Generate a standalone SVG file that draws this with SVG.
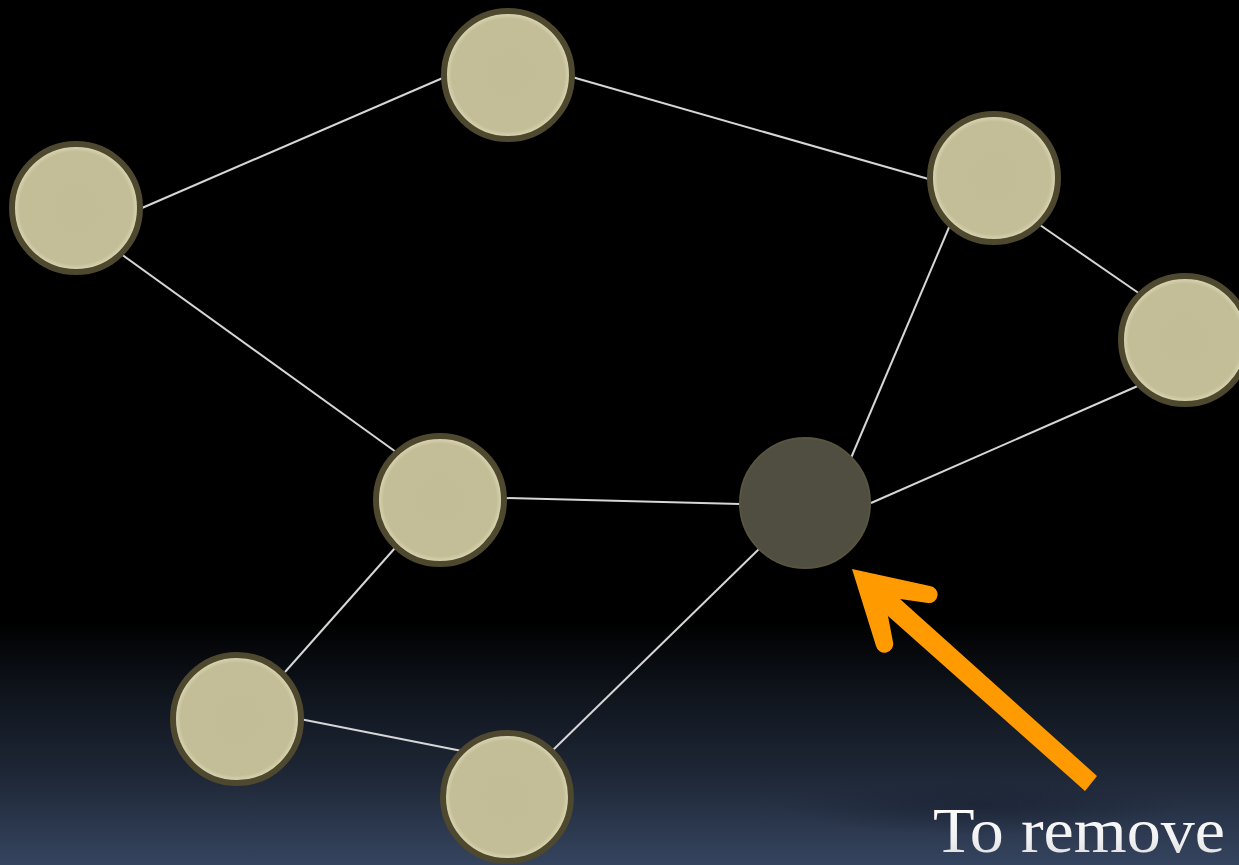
<svg xmlns="http://www.w3.org/2000/svg" width="1239" height="865" viewBox="0 0 1239 865">
<defs>
<linearGradient id="bg" x1="0" y1="0" x2="0" y2="865" gradientUnits="userSpaceOnUse">
<stop offset="0" stop-color="#000000"/>
<stop offset="0.72" stop-color="#000000"/>
<stop offset="0.8" stop-color="#0f141c"/>
<stop offset="0.9" stop-color="#1f2838"/>
<stop offset="1" stop-color="#35445f"/>
</linearGradient>
<radialGradient id="nodeFill" cx="0.5" cy="0.5" r="0.5">
<stop offset="0" stop-color="#c2bd96"/>
<stop offset="0.88" stop-color="#c3be97"/>
<stop offset="0.95" stop-color="#d6d2ae"/>
<stop offset="1" stop-color="#bdb78f"/>
</radialGradient>
<radialGradient id="smudge" cx="0.5" cy="0.5" r="0.5">
<stop offset="0" stop-color="#1a2233" stop-opacity="0.7"/>
<stop offset="1" stop-color="#1a2233" stop-opacity="0"/>
</radialGradient>
<linearGradient id="txt" x1="0" y1="0" x2="0" y2="1">
<stop offset="0" stop-color="#ffffff"/>
<stop offset="0.6" stop-color="#f2f2f2"/>
<stop offset="1" stop-color="#d6d6d6"/>
</linearGradient>
<style>
.node{fill:url(#nodeFill);stroke:#4e482f;stroke-width:6}
.gone{fill:#504e41;stroke:#57543f;stroke-width:2}
.edge{stroke:#d6d6d6;stroke-width:2;fill:none}
.arrow{fill:#ff9a00;stroke:none}
.label{font-family:"Liberation Serif","Times New Roman",serif;font-size:63px;fill:url(#txt)}
</style>
</defs>
<rect x="0" y="0" width="1239" height="865" fill="url(#bg)"/>
<ellipse cx="980" cy="805" rx="200" ry="30" fill="url(#smudge)"/>
<g id="connectors">
<line class="edge" x1="142" y1="208" x2="445" y2="77"/>
<line class="edge" x1="572" y1="77" x2="932" y2="180"/>
<line class="edge" x1="121" y1="254" x2="396" y2="452"/>
<line class="edge" x1="950" y1="225" x2="851" y2="458"/>
<line class="edge" x1="1040" y1="225" x2="1140" y2="294"/>
<line class="edge" x1="1140" y1="385" x2="871" y2="503"/>
<line class="edge" x1="504" y1="498" x2="740" y2="504"/>
<line class="edge" x1="395" y1="548" x2="285" y2="672"/>
<line class="edge" x1="300" y1="719" x2="462" y2="751"/>
<line class="edge" x1="553" y1="750" x2="760" y2="548"/>
</g>
<g id="node-a"><circle class="node" cx="76" cy="208" r="64"/></g>
<g id="node-b"><circle class="node" cx="508" cy="75" r="64"/></g>
<g id="node-c"><circle class="node" cx="994" cy="178" r="64"/></g>
<g id="node-d"><circle class="node" cx="1185" cy="340" r="64"/></g>
<g id="node-e"><circle class="node" cx="440" cy="500" r="64"/></g>
<g id="node-f"><circle class="gone" cx="805" cy="503" r="65"/></g>
<g id="node-g"><circle class="node" cx="237" cy="719" r="64"/></g>
<g id="node-h"><circle class="node" cx="507" cy="797" r="64"/></g>
<g id="arrow">
<path class="arrow" d="M852 569 L930 586 A8.5 8.5 0 0 1 928 603 L900 599 L1097 776 L1085 791 L888 616 L893 642 A8.5 8.5 0 0 1 876 646 Z"/>
</g>
<g id="caption">
<text class="label" x="933" y="852" textLength="292" lengthAdjust="spacingAndGlyphs">To remove</text>
</g>
</svg>
